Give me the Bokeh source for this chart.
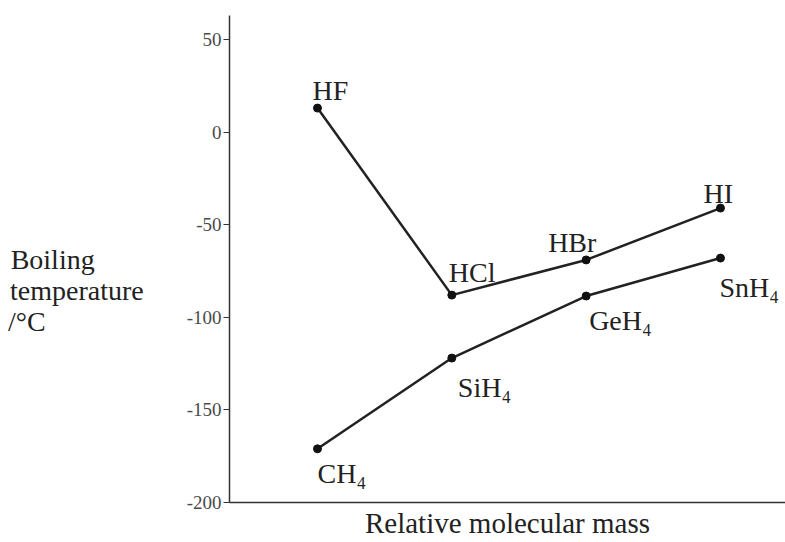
from bokeh.plotting import figure
from bokeh.models import ColumnDataSource, FixedTicker
from bokeh.core.properties import value
from bokeh.embed import file_html
from bokeh.resources import INLINE

# ---- data ----
period = [2, 3, 4, 5]
hydrogen_halides = ["HF", "HCl", "HBr", "HI"]
halide_bp = [13, -88, -69, -41]
group14_hydrides = ["CH₄", "SiH₄", "GeH₄", "SnH₄"]
hydride_bp = [-171, -122, -88.5, -68]
y_ticks = [-200, -150, -100, -50, 0, 50]
y_title_lines = ["Boiling", "temperature", "/°C"]
x_title = "Relative molecular mass"

# label placement (screen pixel offsets, styling only)
halide_dx = [-5, -3, -38, -17]
halide_dy = [-18, -23, -17, -15]
hydride_dx = [0, 6, 3, -1]
hydride_dy = [25, 29, 24, 29]

FONT = "Liberation Serif"
INK = "#222222"
NBSP = "\u00a0"

# the axis title is right-aligned by Bokeh; pad shorter lines with no-break
# spaces so the block reads left-aligned, and add blank lines on top to
# lower the block a little (layout only)
_pad = [7, 0, 14]
y_title = "\n".join([NBSP, NBSP] + [t + NBSP * n for t, n in zip(y_title_lines, _pad)])

p = figure(width=785, height=542, output_backend="svg", toolbar_location=None,
           x_range=(1.345, 5.484), y_range=(-200, 63),
           min_border_left=229, min_border_right=0, min_border_top=15, min_border_bottom=40)
p.outline_line_color = None
p.xgrid.visible = False
p.ygrid.visible = False
p.background_fill_color = "white"

# y axis
p.yaxis.ticker = FixedTicker(ticks=y_ticks)
p.yaxis.major_label_overrides = {t: str(t) for t in y_ticks}
p.yaxis.minor_tick_line_color = None
p.yaxis.major_tick_in = 0
p.yaxis.major_tick_out = 6
p.yaxis.major_label_standoff = 2
p.yaxis.major_label_text_font = FONT
p.yaxis.major_label_text_font_size = "19px"
p.yaxis.major_label_text_color = "#4a4a4a"
p.yaxis.axis_line_color = "#333333"
p.yaxis.axis_line_width = 1.5
p.yaxis.major_tick_line_color = "#333333"
p.yaxis.major_tick_line_width = 1.2
p.yaxis.axis_label = y_title
p.yaxis.axis_label_orientation = "horizontal"
p.yaxis.axis_label_standoff = 40
p.yaxis.axis_label_text_font = FONT
p.yaxis.axis_label_text_font_size = "28px"
p.yaxis.axis_label_text_font_style = "normal"
p.yaxis.axis_label_text_line_height = 1.0
p.yaxis.axis_label_text_color = INK

# x axis
p.xaxis.ticker = FixedTicker(ticks=[])
p.xaxis.minor_tick_line_color = None
p.xaxis.major_tick_out = 0
p.xaxis.major_tick_in = 0
p.xaxis.major_label_standoff = 0
p.xaxis.axis_line_color = "#333333"
p.xaxis.axis_line_width = 1.5
p.xaxis.axis_label = x_title
p.xaxis.axis_label_standoff = 4
p.xaxis.axis_label_text_font = FONT
p.xaxis.axis_label_text_font_size = "29px"
p.xaxis.axis_label_text_font_style = "normal"
p.xaxis.axis_label_text_color = INK

src_h = ColumnDataSource(dict(x=period, y=halide_bp, name=hydrogen_halides,
                              dx=halide_dx, dy=halide_dy))
src_4 = ColumnDataSource(dict(x=period, y=hydride_bp, name=group14_hydrides,
                              dx=hydride_dx, dy=hydride_dy))

for src in (src_h, src_4):
    p.line("x", "y", source=src, line_color=INK, line_width=2.5)
    p.scatter("x", "y", source=src, size=8, fill_color="#111111", line_color="#111111")
    p.text("x", "y", text="name", source=src, x_offset="dx", y_offset="dy",
           text_font=value(FONT), text_font_size="28px", text_color=INK,
           text_align="left", text_baseline="alphabetic")

open("out.html", "w").write(file_html(p, INLINE))
